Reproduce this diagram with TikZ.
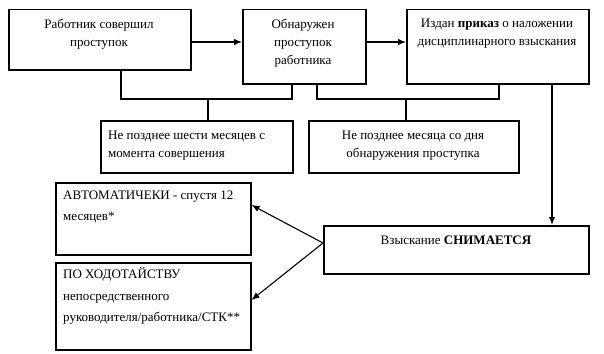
\documentclass[tikz,border=0pt]{standalone}
\usepackage{fontspec}
\setmainfont{Liberation Serif}
\usetikzlibrary{arrows.meta}
\begin{document}
\begin{tikzpicture}[x=1pt,y=-1pt,
  bx/.style={draw, line width=1.5pt, inner sep=0pt, anchor=north west},
  tx/.style={inner sep=0pt, font=\fontsize{13}{18}\selectfont},
  txb/.style={inner sep=0pt, font=\fontsize{13}{21.5}\selectfont},
  ln/.style={line width=1.1pt},
  arr/.style={line width=1.1pt, -{Latex[length=8pt,width=6.5pt]}}]
\useasboundingbox (0,0) rectangle (604,353);
% boxes
\node[bx, minimum width=182pt, minimum height=60pt] (b1) at (8,9) {};
\node[bx, minimum width=123pt, minimum height=74pt] (b2) at (242,9) {};
\node[bx, minimum width=182pt, minimum height=74pt] (b3) at (406,9) {};
\node[bx, minimum width=192pt, minimum height=52pt] (b4) at (100,120) {};
\node[bx, minimum width=210pt, minimum height=52pt] (b5) at (308,120) {};
\node[bx, minimum width=265pt, minimum height=48pt] (b6) at (323,225) {};
\node[bx, minimum width=195pt, minimum height=72pt] (b7) at (55,182) {};
\node[bx, minimum width=195pt, minimum height=87pt] (b8) at (55,262) {};
% texts
\node[tx, align=center] (t1) at (99,34) {Работник совершил\\проступок};
\node[tx, align=center] (t2) at (303,43) {Обнаружен\\проступок\\работника};
\node[tx, align=center] (t3) at (497,34) {Издан \textbf{приказ} о наложении\\дисциплинарного взыскания};
\node[tx, align=left, anchor=west] (t4) at (108,145.5) {Не позднее шести месяцев с\\момента совершения};
\node[tx, align=center] (t5) at (413,145.5) {Не позднее месяца со дня\\обнаружения проступка};
\node[tx] (t6) at (456,240) {Взыскание \textbf{СНИМАЕТСЯ}};
\node[txb, align=left, anchor=west] (t7) at (63,207) {АВТОМАТИЧЕКИ - спустя 12\\месяцев*};
\node[txb, align=left, anchor=west] (t8) at (63,296) {ПО ХОДОТАЙСТВУ\\непосредственного\\руководителя/работника/СТК**};
% connectors
\draw[arr] (b1.east |- 0,42) -- (b2.west |- 0,42);
\draw[arr] (b2.east |- 0,42) -- (b3.west |- 0,42);
\coordinate (j1) at (208,99);
\coordinate (j2) at (406,99);
\draw[ln] (b1.south -| 121,0) -- (121,99) -- (292,99) -- (b2.south -| 292,0);
\draw[ln] (j1) -- (b4.north -| j1);
\draw[ln] (b2.south -| 317,0) -- (317,99) -- (499,99) -- (b3.south -| 499,0);
\draw[ln] (j2) -- (b5.north -| j2);
\draw[arr] (b3.south -| 552,0) -- (b6.north -| 552,0);
\coordinate (s6) at (b6.west |- 0,243);
\draw[arr] (s6) -- (b7.east |- 0,205);
\draw[arr] (s6) -- (b8.east |- 0,300);
\end{tikzpicture}
\end{document}
